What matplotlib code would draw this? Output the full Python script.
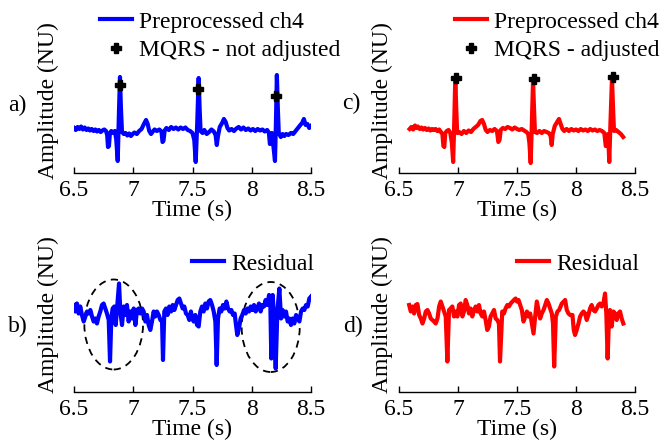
import matplotlib
matplotlib.use("Agg")
import matplotlib.pyplot as plt
from matplotlib.patches import Ellipse

plt.rcParams["font.family"] = ["Liberation Serif", "DejaVu Serif"]
plt.rcParams["font.size"] = 17

# ---- a) preprocessed ch4, MQRS not adjusted ----
t_a = [6.50, 6.515, 6.53, 6.545, 6.56, 6.575, 6.59, 6.605, 6.62, 6.635, 6.65, 6.665,
       6.68, 6.695, 6.71, 6.725, 6.74, 6.755, 6.77, 6.78, 6.787, 6.795, 6.803, 6.815,
       6.83, 6.845, 6.856, 6.869, 6.878, 6.888, 6.896, 6.905, 6.92, 6.935, 6.95, 6.965,
       6.98, 6.995, 7.01, 7.03, 7.05, 7.07, 7.09, 7.108, 7.122, 7.135, 7.15, 7.165,
       7.18, 7.20, 7.22, 7.238, 7.247, 7.255, 7.265, 7.28, 7.30, 7.32, 7.34, 7.36,
       7.38, 7.40, 7.42, 7.44, 7.46, 7.48, 7.50, 7.515, 7.527, 7.540, 7.552, 7.560,
       7.568, 7.585, 7.60, 7.62, 7.64, 7.66, 7.68, 7.695, 7.705, 7.715, 7.73, 7.75,
       7.765, 7.78, 7.795, 7.81, 7.83, 7.85, 7.87, 7.89, 7.91, 7.93, 7.95, 7.97,
       7.99, 8.01, 8.03, 8.05, 8.07, 8.09, 8.11, 8.13, 8.145, 8.153, 8.161, 8.170,
       8.180, 8.196, 8.204, 8.212, 8.220, 8.228, 8.245, 8.26, 8.275, 8.29, 8.31, 8.33,
       8.35, 8.37, 8.39, 8.41, 8.425, 8.44, 8.455, 8.47, 8.485, 8.50]
v_a = [0.00, -0.04, 0.02, -0.02, 0.03, -0.03, 0.01, -0.04, -0.01, -0.05, -0.02, -0.06,
       -0.03, -0.07, -0.04, -0.08, -0.05, -0.03, -0.06, -0.14, -0.38, -0.36, -0.10, -0.06,
       -0.10, -0.06, -0.22, -0.66, 0.20, 1.02, 0.40, -0.08, -0.12, -0.10, -0.15, -0.11,
       -0.16, -0.12, -0.09, -0.12, -0.06, -0.02, 0.08, 0.16, 0.08, -0.06, -0.12, -0.07,
       -0.03, -0.06, -0.03, -0.07, -0.28, -0.26, -0.05, 0.00, -0.04, 0.02, -0.02, 0.01,
       -0.03, 0.01, -0.02, 0.01, -0.04, -0.06, -0.10, -0.24, -0.68, 0.10, 1.00, 0.40,
       -0.06, -0.10, -0.04, -0.12, -0.08, -0.03, -0.07, -0.14, -0.34, -0.16, 0.02, 0.10,
       0.18, 0.12, 0.00, -0.05, -0.02, -0.06, -0.01, 0.02, -0.03, 0.01, -0.04, -0.01,
       -0.05, -0.02, -0.06, -0.02, -0.05, -0.03, -0.07, -0.04, -0.10, -0.32, -0.30, -0.10,
       -0.30, -0.66, 0.10, 1.06, 0.40, -0.10, -0.18, -0.12, -0.16, -0.12, -0.14, -0.10,
       -0.12, -0.06, 0.00, 0.06, 0.10, 0.18, 0.06, 0.08, 0.00, 0.04]
mqrs_t_a = [6.888, 7.546, 8.205]
mqrs_v_a = [0.86, 0.78, 0.64]

# ---- c) preprocessed ch4, MQRS adjusted ----
t_c = [6.590, 6.605, 6.62, 6.635, 6.648, 6.66, 6.675, 6.69, 6.705, 6.72, 6.735, 6.75,
       6.765, 6.78, 6.795, 6.81, 6.825, 6.84, 6.855, 6.868, 6.876, 6.884, 6.892, 6.905,
       6.92, 6.935, 6.948, 6.959, 6.968, 6.977, 6.985, 6.993, 7.01, 7.03, 7.05, 7.07,
       7.09, 7.11, 7.13, 7.15, 7.17, 7.19, 7.205, 7.22, 7.235, 7.25, 7.27, 7.29,
       7.31, 7.33, 7.342, 7.352, 7.362, 7.38, 7.40, 7.42, 7.44, 7.46, 7.48, 7.50,
       7.52, 7.54, 7.56, 7.58, 7.595, 7.605, 7.616, 7.626, 7.636, 7.644, 7.652, 7.67,
       7.69, 7.71, 7.73, 7.75, 7.77, 7.785, 7.794, 7.803, 7.82, 7.84, 7.856, 7.87,
       7.885, 7.90, 7.92, 7.94, 7.96, 7.98, 8.00, 8.02, 8.04, 8.06, 8.08, 8.10,
       8.12, 8.14, 8.16, 8.18, 8.20, 8.22, 8.24, 8.252, 8.262, 8.272, 8.282, 8.292,
       8.305, 8.314, 8.322, 8.34, 8.36, 8.38, 8.40]
v_c = [-0.02, 0.02, -0.03, 0.05, 0.00, 0.03, -0.02, 0.01, -0.03, 0.00, -0.04, -0.01,
       -0.05, -0.02, -0.04, -0.02, -0.06, -0.03, -0.08, -0.12, -0.36, -0.38, -0.10, -0.06,
       -0.04, -0.10, -0.30, -0.68, 0.10, 1.00, 0.40, -0.10, -0.08, -0.12, -0.06, -0.10,
       -0.05, -0.08, -0.02, 0.02, 0.06, 0.14, 0.16, 0.08, -0.04, -0.08, -0.04, -0.06,
       -0.02, -0.06, -0.28, -0.24, -0.04, 0.00, -0.02, 0.02, 0.00, -0.03, 0.01, -0.02,
       -0.04, -0.02, -0.05, -0.08, -0.12, -0.30, -0.70, 0.10, 0.96, 0.40, -0.08, -0.10,
       -0.06, -0.10, -0.06, -0.08, -0.10, -0.16, -0.34, -0.12, 0.04, 0.12, 0.18, 0.08,
       -0.02, -0.06, -0.02, -0.06, -0.02, -0.05, -0.03, -0.06, -0.02, -0.05, -0.03, -0.06,
       -0.02, -0.05, -0.03, -0.06, -0.04, -0.06, -0.10, -0.36, -0.34, -0.12, -0.68, 0.10,
       1.00, 0.40, -0.06, -0.04, -0.08, -0.12, -0.18]
mqrs_t_c = [6.98, 7.645, 8.31]
mqrs_v_c = [1.00, 0.98, 1.02]

# ---- b) residual (not adjusted) ----
t_b = [6.500, 6.511, 6.525, 6.539, 6.553, 6.567, 6.582, 6.596, 6.610, 6.624, 6.638, 6.652,
       6.666, 6.680, 6.694, 6.708, 6.722, 6.736, 6.750, 6.764, 6.778, 6.793, 6.804, 6.815,
       6.826, 6.840, 6.852, 6.863, 6.880, 6.891, 6.905, 6.919, 6.933, 6.947, 6.961, 6.975,
       6.989, 7.004, 7.018, 7.032, 7.046, 7.060, 7.074, 7.088, 7.102, 7.116, 7.130, 7.144,
       7.158, 7.172, 7.186, 7.200, 7.215, 7.229, 7.243, 7.251, 7.262, 7.276, 7.290, 7.304,
       7.319, 7.333, 7.347, 7.361, 7.375, 7.389, 7.403, 7.417, 7.431, 7.445, 7.459, 7.473,
       7.487, 7.496, 7.510, 7.524, 7.538, 7.552, 7.566, 7.580, 7.594, 7.608, 7.622, 7.636,
       7.650, 7.665, 7.679, 7.693, 7.704, 7.715, 7.729, 7.743, 7.757, 7.771, 7.786, 7.800,
       7.814, 7.828, 7.842, 7.856, 7.867, 7.878, 7.892, 7.906, 7.920, 7.935, 7.949, 7.963,
       7.977, 7.991, 8.005, 8.019, 8.033, 8.047, 8.061, 8.075, 8.089, 8.103, 8.117, 8.131,
       8.146, 8.157, 8.165, 8.177, 8.188, 8.202, 8.216, 8.233, 8.247, 8.261, 8.275, 8.289,
       8.303, 8.317, 8.331, 8.345, 8.359, 8.374, 8.388, 8.402, 8.416, 8.430, 8.444, 8.458,
       8.472, 8.486, 8.500]
v_b = [0.20, 0.07, 0.23, 0.03, 0.17, 0.00, -0.13, -0.03, 0.07, 0.03, 0.10, -0.03,
       -0.13, -0.07, -0.17, -0.03, 0.07, 0.20, 0.23, 0.13, 0.03, -0.10, -0.93, -0.07,
       0.13, 0.17, -0.20, 0.13, 0.63, 0.07, -0.20, 0.17, 0.00, 0.20, -0.13, 0.07,
       -0.07, 0.13, -0.20, 0.10, 0.13, 0.03, 0.13, 0.07, -0.13, 0.00, -0.20, -0.30,
       -0.13, 0.07, -0.03, 0.07, 0.00, -0.10, -0.13, -0.90, 0.07, 0.13, 0.00, 0.17,
       0.07, 0.20, 0.10, 0.20, 0.30, 0.33, 0.23, 0.13, 0.17, 0.03, 0.00, -0.10,
       0.07, -0.07, -0.13, 0.00, -0.20, -0.23, 0.07, 0.17, 0.07, 0.23, 0.13, 0.27,
       0.30, 0.20, 0.07, -0.13, -1.00, -0.07, 0.13, 0.07, 0.20, 0.13, 0.27, 0.13,
       0.07, 0.10, 0.00, 0.03, -0.20, -0.40, -0.27, -0.07, 0.00, 0.10, 0.03, 0.13,
       0.07, 0.17, 0.10, 0.20, 0.07, 0.13, 0.23, 0.07, 0.20, 0.17, 0.30, 0.20,
       0.40, 0.20, -0.87, 0.40, -0.07, -1.07, 0.07, 0.53, -0.07, 0.10, -0.03, 0.07,
       -0.13, -0.07, -0.20, -0.07, -0.17, 0.00, -0.07, -0.13, 0.07, 0.13, 0.10, 0.20,
       0.17, 0.33, 0.37]

# circled regions in b): centre time, centre amplitude, width (s), height (NU)
ell_t = [6.835, 8.160]
ell_v = [-0.19, -0.24]
ell_w = [0.495, 0.49]
ell_h = [1.80, 1.80]

# ---- d) residual (adjusted) ----
t_d = [6.586, 6.600, 6.614, 6.628, 6.642, 6.656, 6.671, 6.685, 6.699, 6.713, 6.727, 6.741,
       6.755, 6.769, 6.783, 6.797, 6.811, 6.826, 6.840, 6.854, 6.868, 6.882, 6.896, 6.910,
       6.924, 6.938, 6.952, 6.966, 6.980, 6.995, 7.009, 7.023, 7.037, 7.051, 7.065, 7.079,
       7.093, 7.107, 7.121, 7.136, 7.150, 7.164, 7.178, 7.192, 7.206, 7.220, 7.234, 7.248,
       7.262, 7.276, 7.290, 7.305, 7.319, 7.333, 7.347, 7.356, 7.375, 7.389, 7.403, 7.418,
       7.432, 7.446, 7.474, 7.488, 7.499, 7.513, 7.527, 7.541, 7.555, 7.570, 7.584, 7.598,
       7.612, 7.626, 7.640, 7.654, 7.668, 7.682, 7.696, 7.710, 7.725, 7.739, 7.753, 7.767,
       7.781, 7.795, 7.805, 7.815, 7.829, 7.843, 7.857, 7.880, 7.908, 7.922, 7.936, 7.950,
       7.970, 7.981, 7.992, 8.006, 8.021, 8.035, 8.049, 8.063, 8.077, 8.091, 8.105, 8.119,
       8.133, 8.147, 8.162, 8.176, 8.190, 8.204, 8.218, 8.232, 8.246, 8.257, 8.268, 8.280,
       8.288, 8.302, 8.317, 8.331, 8.345, 8.359, 8.373, 8.387, 8.401]
v_d = [0.20, 0.07, 0.17, 0.03, 0.20, 0.22, 0.00, -0.07, -0.17, -0.07, 0.07, 0.10,
       0.03, -0.07, -0.10, -0.13, -0.17, -0.07, 0.17, 0.27, 0.17, 0.07, -0.03, -0.93,
       0.10, 0.13, 0.17, -0.03, 0.07, -0.03, 0.20, 0.23, -0.03, 0.07, 0.30, 0.20,
       0.03, 0.13, -0.03, 0.10, 0.17, 0.07, 0.20, 0.03, -0.03, 0.07, -0.10, -0.30,
       -0.23, -0.03, 0.03, 0.10, -0.07, -0.10, -0.17, -0.93, 0.07, 0.03, 0.13, 0.20,
       0.17, 0.23, 0.30, 0.33, 0.27, 0.30, 0.20, 0.10, -0.13, -0.03, 0.07, -0.03,
       0.03, -0.17, -0.37, -0.03, 0.27, 0.10, -0.07, 0.03, 0.10, 0.20, 0.30, 0.23,
       0.13, 0.03, -0.17, -1.03, -0.03, 0.07, 0.10, 0.23, 0.30, 0.10, 0.03, 0.00,
       0.00, -0.30, -0.40, -0.30, -0.17, -0.03, 0.03, 0.07, 0.03, -0.10, 0.00, 0.13,
       0.20, 0.10, 0.07, 0.13, 0.20, 0.23, 0.17, 0.23, 0.43, 0.03, -0.87, -0.03,
       0.10, -0.23, 0.07, 0.03, -0.10, 0.03, 0.07, -0.07, -0.17]

ticks = [6.5, 7, 7.5, 8, 8.5]
tick_labels = ["6.5", "7", "7.5", "8", "8.5"]

W, H = 661, 442
fig = plt.figure(figsize=(W / 100, H / 100), dpi=100)


def px_axes(x0, x1, y_top, y_bot):
    return fig.add_axes([x0 / W, 1 - y_bot / H, (x1 - x0) / W, (y_bot - y_top) / H])


def style(ax, ylim, ypad):
    ax.set_xlim(6.5, 8.5)
    ax.set_ylim(*ylim)
    for s in ["top", "right", "left"]:
        ax.spines[s].set_visible(False)
    ax.spines["bottom"].set_linewidth(1.0)
    ax.set_yticks([])
    ax.set_xticks(ticks)
    ax.set_xticklabels(tick_labels)
    ax.tick_params(axis="x", direction="in", length=4, width=1, pad=5, labelsize=17)
    ax.set_xlabel("Time (s)", fontsize=17, labelpad=-1)
    ax.set_ylabel("Amplitude (NU)", fontsize=17, labelpad=ypad)
    ax.patch.set_visible(False)


ax1 = px_axes(74, 311, 28, 173)
ax2 = px_axes(399, 635, 28, 173)
ax3 = px_axes(74, 311, 238, 392)
ax4 = px_axes(399, 635, 238, 392)

lw = 3.0
ax1.plot(t_a, v_a, color="#0000ff", lw=lw, label="Preprocessed ch4")
ax1.plot(mqrs_t_a, mqrs_v_a, "P", color="black", ms=7, mec="black", label="MQRS - not adjusted")
style(ax1, (-0.9, 2.0), 11)

ax2.plot(t_c, v_c, color="#ff0000", lw=lw, label="Preprocessed ch4")
ax2.plot(mqrs_t_c, mqrs_v_c, "P", color="black", ms=7, mec="black", label="MQRS - adjusted")
style(ax2, (-0.9, 2.0), 4)

ax3.plot(t_b, v_b, color="#0000ff", lw=lw, label="Residual")
for et, ev, ew, eh in zip(ell_t, ell_v, ell_w, ell_h):
    ax3.add_patch(Ellipse((et, ev), ew, eh, fill=False, ec="black", lw=1.3,
                          ls=(0, (4, 3)), clip_on=False))
style(ax3, (-1.54, 1.54), 11)

ax4.plot(t_d, v_d, color="#ff0000", lw=lw, label="Residual")
style(ax4, (-1.54, 1.54), 4)

leg_kw = dict(loc="upper left", frameon=False, fontsize=17, handlelength=1.35,
              handletextpad=0.3, labelspacing=0.3, borderpad=0, borderaxespad=0,
              numpoints=1, bbox_transform=fig.transFigure)
ax1.legend(bbox_to_anchor=(100 / W, 1 - 11 / H), **leg_kw)
ax2.legend(bbox_to_anchor=(455 / W, 1 - 11 / H), **leg_kw)
ax3.legend(bbox_to_anchor=(192 / W, 1 - 253 / H), **leg_kw)
ax4.legend(bbox_to_anchor=(517 / W, 1 - 253 / H), **leg_kw)

for lab, x, y in [("a)", 8, 105), ("c)", 342, 103), ("b)", 8, 326), ("d)", 343, 326)]:
    fig.text(x / W, 1 - y / H, lab, fontsize=17, ha="left", va="center")

fig.savefig("out.png", dpi=100)
